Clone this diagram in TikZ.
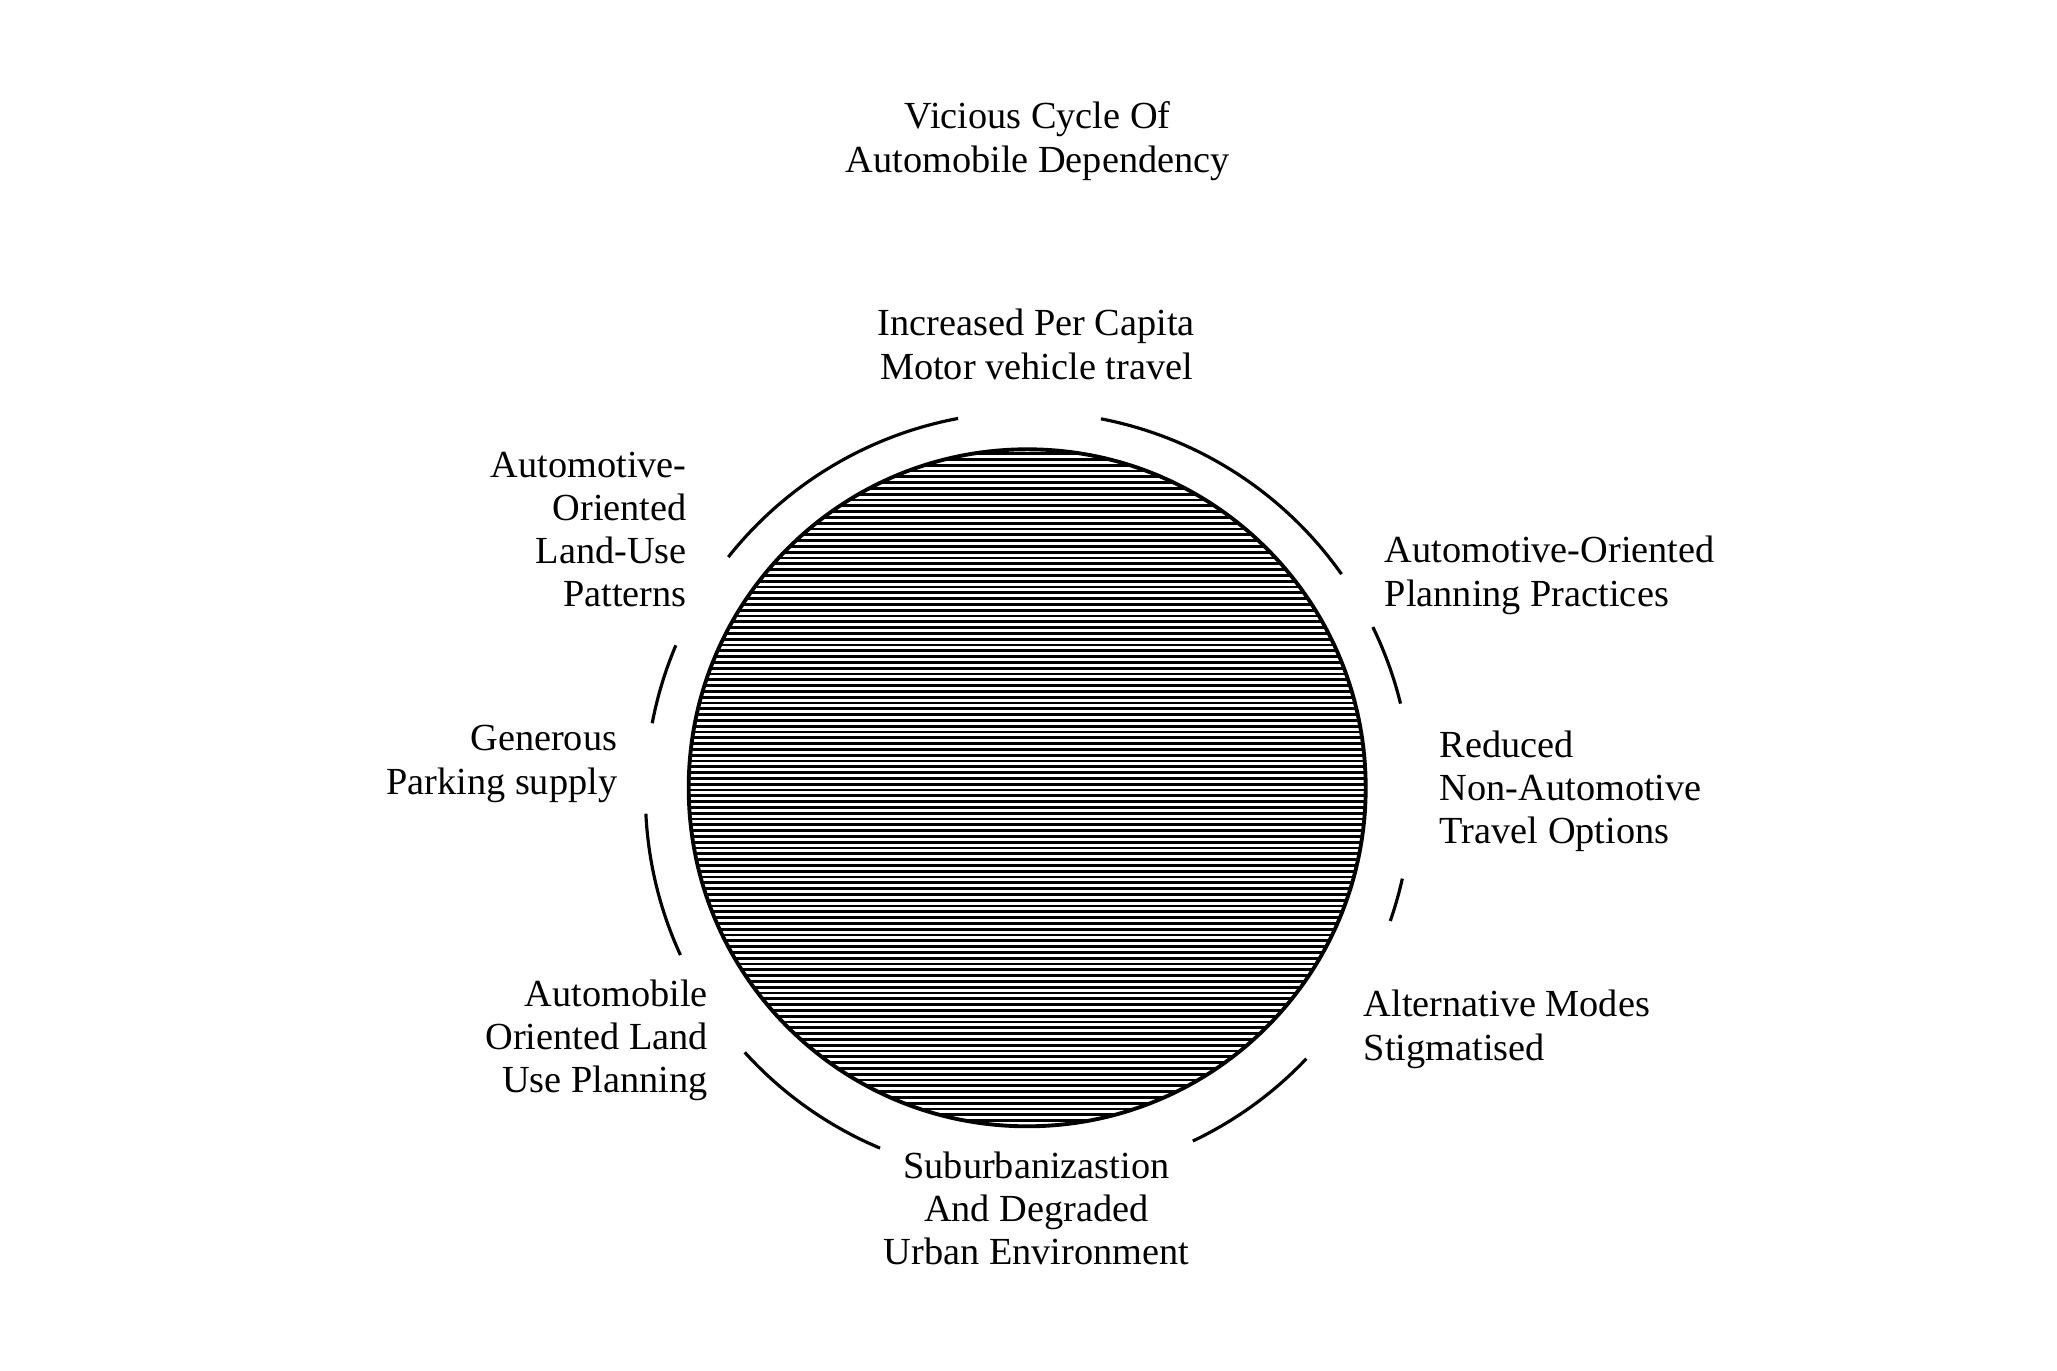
\documentclass[tikz,border=0pt]{standalone}
\usepackage{fontspec}
\setmainfont{Liberation Serif}
\usepackage{tikz}
\usetikzlibrary{positioning,calc}
\definecolor{ink}{HTML}{000000}
\newcommand{\circR}{3.385}
\newcommand{\ringR}{3.831}

\begin{document}
\begin{tikzpicture}[font=\fontsize{10.9}{12.3}\selectfont,
  lbl/.style={inner sep=0pt,text=ink},
  ring/.style={ink,line width=0.9pt}]
  \useasboundingbox (0,0) rectangle (20.57,-13.71);
  \coordinate (hub) at (10.272,-7.878);
  \coordinate (ringc) at (10.285,-7.950);
  % hatched disc
  \begin{scope}
    \clip (hub) circle (\circR);
    \foreach \k in {0,...,117}{
      \draw[ink,line width=0.8pt] ($(hub)+(-3.5,3.4-\k*0.058)$) -- ++(7,0);}
  \end{scope}
  \draw[ink,line width=1.1pt] (hub) circle (\circR);
  % cycle arcs
  \foreach \a/\b in {100.6/141.6, 79.1/35.2, 26.0/13.8, -12.6/-19.2, -43.5/-64.6, 247.2/222.2, 204.7/182.8, 169.2/157.0}{
    \draw[ring] ($(ringc)+(\a:\ringR)$) arc[start angle=\a,end angle=\b,radius=\ringR];}
  % labels
  \node[lbl,align=center] (title) at (10.377,-1.411) {Vicious Cycle Of\\Automobile Dependency};
  \node[lbl,align=center] (travel) at (10.364,-3.444) {Increased Per Capita\\Motor vehicle travel};
  \node[lbl,align=left,anchor=west] (planning) at (13.841,-5.753) {Automotive-Oriented\\Planning Practices};
  \node[lbl,align=left,anchor=west] (options) at (14.392,-7.911) {Reduced\\Non-Automotive\\Travel Options};
  \node[lbl,align=left,anchor=west] (stigma) at (13.631,-10.293) {Alternative Modes\\Stigmatised};
  \node[lbl,align=center] (suburb) at (10.364,-12.082) {Suburbanizastion\\And Degraded\\Urban Environment};
  \node[lbl,align=right,anchor=east] (landplan) at (7.084,-10.404) {Automobile\\Oriented Land\\Use Planning};
  \node[lbl,align=right,anchor=east] (parking) at (6.179,-7.639) {Generous\\Parking supply};
  \node[lbl,align=right,anchor=east] (landuse) at (6.874,-5.294) {Automotive-\\Oriented\\Land-Use\\Patterns};
\end{tikzpicture}
\end{document}
